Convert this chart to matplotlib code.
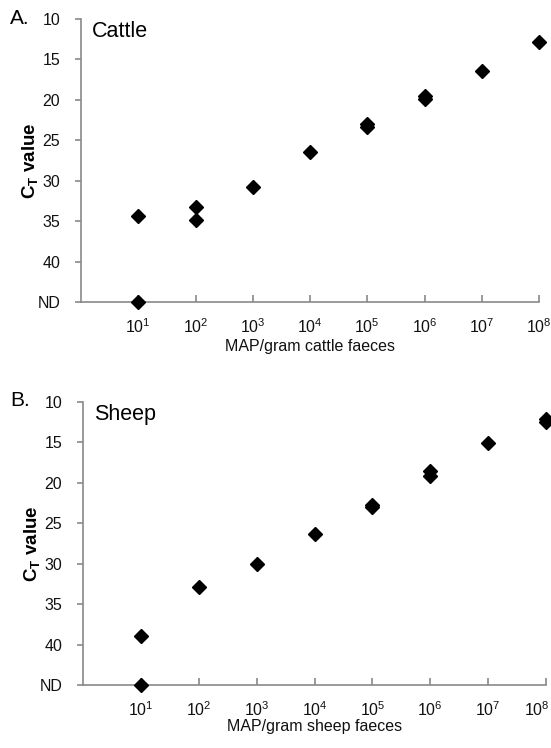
import matplotlib
matplotlib.use("Agg")
import matplotlib.pyplot as plt

plt.rcParams['font.family'] = ['Liberation Sans', 'DejaVu Sans']
plt.rcParams['mathtext.fontset'] = 'custom'
plt.rcParams['mathtext.rm'] = 'Liberation Sans'
plt.rcParams['mathtext.it'] = 'Liberation Sans:italic'
plt.rcParams['mathtext.bf'] = 'Liberation Sans:bold'

# ---- data ----
ND_VALUE = 45
cattle_exp = [1, 1, 2, 2, 3, 4, 5, 5, 6, 6, 7, 8]
cattle_ct = [34.4, 45, 33.3, 34.9, 30.8, 26.4, 23.0, 23.3, 19.5, 19.9, 16.4, 12.8]
sheep_exp = [1, 1, 2, 3, 4, 5, 5, 6, 6, 7, 8, 8]
sheep_ct = [39.0, 45, 32.9, 30.0, 26.3, 22.7, 23.0, 18.5, 19.1, 15.1, 12.1, 12.5]
y_ticks = [10, 15, 20, 25, 30, 35, 40, 45]
y_ticklabels = ['10', '15', '20', '25', '30', '35', '40', 'ND']
x_exps = [1, 2, 3, 4, 5, 6, 7, 8]

W, H = 551, 748
fig = plt.figure(figsize=(W / 100, H / 100), dpi=100)

gray = '#898989'

def make_panel(rect, exps, cts, xlabel, name, xlab_y, shift_last):
    ax = fig.add_axes(rect)
    ax.set_xscale('log')
    ax.plot([10.0 ** e for e in exps], cts, linestyle='none', marker='D',
            markersize=7, color='black', clip_on=False, zorder=5)
    ax.set_xlim(1, 1e8)
    ax.set_ylim(ND_VALUE, 10)
    ax.set_yticks(y_ticks)
    ax.set_yticklabels(y_ticklabels)
    ax.set_xticks([10.0 ** e for e in x_exps])
    ax.set_xticklabels([r'$\mathregular{10^{%d}}$' % e for e in x_exps])
    ax.minorticks_off()
    for s in ['top', 'right']:
        ax.spines[s].set_visible(False)
    for s in ['left', 'bottom']:
        ax.spines[s].set_color(gray)
        ax.spines[s].set_linewidth(1.2)
    ax.tick_params(axis='y', direction='out', length=4, width=1.2, color=gray,
                   labelsize=11.5, pad=11, labelcolor='#111111')
    ax.tick_params(axis='x', direction='in', length=5, width=1.2, color=gray,
                   labelsize=11.5, pad=11, labelcolor='#111111')
    if shift_last:
        lab = ax.get_xticklabels()[-1]
        lab.set_horizontalalignment('right')
        lab.set_x(10.0 ** 8)
    ax.set_xlabel(xlabel, fontsize=11.5, color='#111111')
    ax.xaxis.set_label_coords(0.5, xlab_y)
    ax.xaxis.label.set_va('center')
    ax.set_ylabel(r'$\mathbf{C_T}$ value', fontsize=13.5, fontweight='bold')
    ax.yaxis.set_label_coords(-0.111, 0.5)
    ax.yaxis.label.set_va('center')
    ax.text(0.024, 0.955, name, transform=ax.transAxes, fontsize=15.5,
            ha='left', va='center')
    return ax

make_panel([81 / W, 1 - 302 / H, (539 - 81) / W, (302 - 19) / H],
           cattle_exp, cattle_ct, 'MAP/gram cattle faeces', 'Cattle', -0.159, False)
ax2 = make_panel([83 / W, 1 - 685 / H, (546 - 83) / W, (685 - 402) / H],
                 sheep_exp, sheep_ct, 'MAP/gram sheep faeces', 'Sheep', -0.148, False)

fig.text(10 / W, 1 - 19 / H, 'A.', fontsize=15, ha='left', va='center')
fig.text(10 / W, 1 - 401 / H, 'B.', fontsize=15, ha='left', va='center')

# keep the last sheep tick label inside the figure
fig.canvas.draw()
last = ax2.get_xticklabels()[-1]
bb = last.get_window_extent()
over = bb.x1 - (W - 1)
if over > 0:
    from matplotlib.transforms import offset_copy
    last.set_transform(offset_copy(last.get_transform(), fig=fig, x=-over, units='dots'))

fig.savefig('out.png', dpi=100)
